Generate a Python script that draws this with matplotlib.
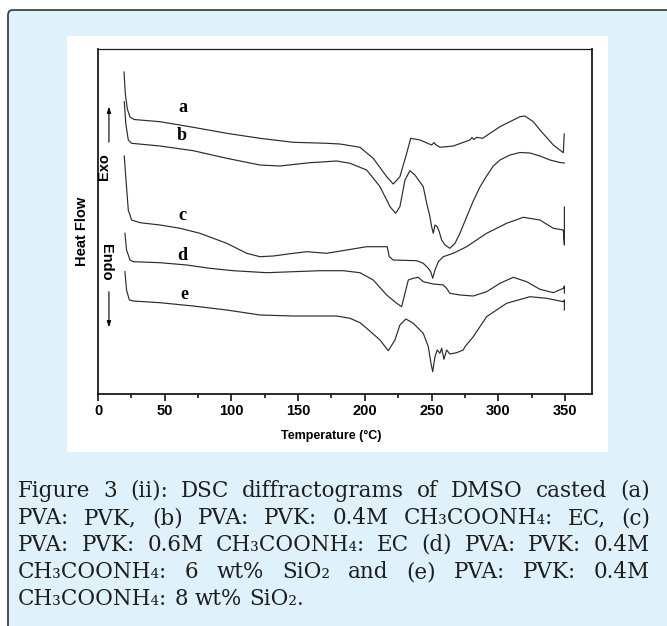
import matplotlib
matplotlib.use('Agg')
import matplotlib.pyplot as plt
import matplotlib.patches as patches
from matplotlib.transforms import IdentityTransform

W, H = 667, 626

# DSC curves: temperature (deg C) and heat flow (arbitrary units)
temp_a = [19.5, 20.5, 22.0, 24.0, 27.0, 46.5, 71.4, 96.5, 121.4, 146.4, 171.4, 181.4, 196.4,
          206.3, 216.4, 221.3, 226.3, 231.4, 234.4, 241.3, 250.1, 252.0, 253.0, 256.3, 266.3,
          278.8, 280.3, 281.8, 283.8, 288.3, 301.3, 316.3, 320.0, 326.3, 331.3, 341.3, 348.8, 349.5]
flow_a = [322.0, 300.0, 285.0, 277.0, 274.5, 272.3, 266.7, 260.7, 255.7, 251.7, 250.7, 250.0, 246.7,
          235.7, 217.3, 210.0, 217.3, 240.7, 255.7, 254.0, 249.0, 251.5, 249.5, 246.7, 248.0,
          254.0, 256.5, 254.5, 256.7, 255.7, 267.3, 277.3, 278.0, 272.3, 264.0, 249.0, 241.3, 260.0]

temp_b = [19.7, 20.8, 22.7, 25.2, 46.5, 71.4, 96.5, 121.4, 136.4, 158.9, 178.9, 188.9, 201.4,
          211.4, 218.9, 223.1, 226.3, 230.1, 233.8, 237.6, 243.8, 246.4, 248.8, 250.1, 251.3,
          252.6, 254.3, 255.8, 257.6, 260.1, 263.8, 267.6, 271.3, 276.3, 281.3, 286.3, 291.3,
          296.3, 301.3, 308.8, 316.3, 323.8, 331.3, 338.8, 346.3, 349.5]
flow_b = [292.3, 270.7, 254.0, 250.7, 248.0, 243.3, 235.7, 229.0, 228.0, 231.3, 233.0, 230.7, 224.0,
          207.3, 187.3, 180.7, 187.3, 214.0, 223.3, 219.0, 207.3, 190.7, 177.3, 167.3, 160.7,
          169.0, 167.3, 162.3, 154.0, 149.0, 145.7, 150.7, 160.7, 177.0, 193.0, 207.0, 218.0,
          228.0, 234.0, 239.0, 241.5, 241.0, 238.0, 234.0, 231.5, 231.0]

temp_c = [19.7, 20.8, 22.7, 25.2, 31.5, 46.5, 61.5, 76.4, 96.5, 111.5, 121.4, 131.4, 146.4, 156.4,
          171.4, 186.4, 201.4, 213.8, 216.8, 218.3, 221.3, 238.8, 243.8, 247.6, 249.4, 250.9,
          252.6, 255.1, 258.8, 266.3, 276.3, 291.3, 306.3, 318.8, 331.3, 341.3, 348.8, 349.6, 349.6]
flow_c = [238.0, 217.3, 184.0, 174.0, 171.3, 169.0, 165.7, 160.7, 150.7, 140.7, 137.3, 138.0, 140.7,
          142.3, 140.7, 144.0, 147.3, 147.3, 147.3, 137.3, 134.0, 133.3, 130.7, 125.7, 122.3,
          115.7, 124.0, 132.3, 137.3, 140.7, 147.3, 160.7, 170.7, 176.7, 174.0, 165.7, 164.0,
          149.0, 187.0]

temp_d = [20.2, 21.4, 24.0, 26.5, 46.5, 66.5, 83.9, 101.4, 126.4, 146.4, 166.4, 183.9, 196.4,
          206.3, 216.4, 223.9, 227.6, 230.1, 232.6, 236.3, 240.1, 243.8, 251.3, 258.8, 261.3,
          263.8, 271.3, 281.3, 291.3, 301.3, 311.3, 321.3, 331.3, 341.3, 348.8, 349.6, 349.6]
flow_d = [160.7, 144.0, 134.0, 132.3, 131.3, 129.0, 125.7, 123.3, 121.3, 122.3, 123.3, 123.3, 121.3,
          114.0, 99.0, 90.7, 87.3, 100.7, 114.0, 115.7, 116.7, 112.3, 110.0, 109.0, 105.7,
          100.7, 99.0, 98.0, 102.3, 110.7, 116.7, 112.3, 104.7, 101.3, 105.7, 108.0, 101.0]

temp_e = [20.2, 21.4, 23.5, 26.5, 46.5, 71.4, 96.5, 121.4, 146.4, 178.9, 188.9, 196.4, 201.4,
          211.4, 217.6, 222.6, 226.3, 230.8, 236.3, 243.8, 247.6, 249.6, 250.9, 252.6, 254.3,
          256.3, 257.6, 259.3, 261.3, 263.8, 268.8, 273.8, 275.1, 281.3, 291.3, 306.3, 323.8,
          336.3, 348.8, 349.6, 349.6]
flow_e = [122.3, 104.0, 94.0, 93.0, 91.3, 88.0, 84.0, 79.0, 78.0, 78.0, 75.7, 71.3, 65.7,
          54.0, 43.3, 54.0, 69.0, 75.0, 70.7, 60.7, 47.3, 30.7, 22.3, 37.3, 44.0,
          40.7, 45.7, 34.7, 44.0, 40.0, 41.3, 44.0, 47.3, 57.3, 77.3, 90.7, 97.3,
          95.7, 92.3, 94.0, 84.0]

curve_temps = [temp_a, temp_b, temp_c, temp_d, temp_e]
curve_flows = [flow_a, flow_b, flow_c, flow_d, flow_e]
curve_labels = ['a', 'b', 'c', 'd', 'e']
label_temp = [63.5, 62.7, 63.2, 63.2, 64.5]
label_flow = [286.7, 258.0, 179.0, 139.0, 99.7]

x_ticks = [0, 50, 100, 150, 200, 250, 300, 350]

caption_lines = [
    "Figure 3 (ii): DSC diffractograms of DMSO casted (a)",
    "PVA: PVK, (b) PVA: PVK: 0.4M CH\u2083COONH\u2084: EC, (c)",
    "PVA: PVK: 0.6M CH\u2083COONH\u2084: EC (d) PVA: PVK: 0.4M",
    "CH\u2083COONH\u2084: 6 wt% SiO\u2082 and (e) PVA: PVK: 0.4M",
    "CH\u2083COONH\u2084: 8 wt% SiO\u2082.",
]


def px_box(x0, y0, x1, y1):
    """image pixel box (top-left origin) -> figure fraction rect"""
    return [x0 / W, (H - y1) / H, (x1 - x0) / W, (y1 - y0) / H]


fig = plt.figure(figsize=(W / 100, H / 100), dpi=100)
fig.patch.set_facecolor('white')

# light blue panel with dark border, runs off the right and bottom edges
panel = patches.FancyBboxPatch((8, -60), 720, H - 10 + 60,
                               boxstyle='round,pad=0,rounding_size=5',
                               transform=IdentityTransform(), zorder=-2,
                               facecolor='#dff1fb', edgecolor='#333333', linewidth=1.2)
fig.patches.append(panel)

# white figure image area
white = patches.Rectangle((67, H - 452), 541, 416, transform=IdentityTransform(),
                          zorder=-1, facecolor='white', edgecolor='none')
fig.patches.append(white)

ax = fig.add_axes(px_box(98, 49, 592, 394))
ax.set_facecolor('white')
for t, f in zip(curve_temps, curve_flows):
    ax.plot(t, f, color='#2b2b2b', linewidth=0.85)

serif_bold = ['Liberation Serif', 'DejaVu Serif']
for lab, lt, lf in zip(curve_labels, label_temp, label_flow):
    ax.text(lt, lf, lab, family=serif_bold, fontweight='bold', fontsize=13,
            ha='center', va='center')

ax.set_xlim(0, 370.3)
ax.set_ylim(0, 345)
ax.set_yticks([])
ax.set_xticks(x_ticks)
ax.set_xticks([25, 75, 125, 175, 225, 275, 325], minor=True)
narrow = ['Liberation Sans Narrow', 'Liberation Sans', 'DejaVu Sans']
ax.set_xticklabels([str(v) for v in x_ticks], family=narrow, fontweight='heavy', fontsize=10.5)
ax.tick_params(axis='x', which='major', direction='out', length=5, width=1.1, pad=2)
ax.tick_params(axis='x', which='minor', direction='out', length=3, width=1.1)
for side in ['left', 'bottom', 'right']:
    ax.spines[side].set_linewidth(1.3)
ax.spines['top'].set_linewidth(0.9)
for s in ax.spines.values():
    s.set_color('#1a1a1a')

# Exo / Endo arrows and labels
sans = ['Liberation Sans', 'DejaVu Sans']
ax.annotate('', xy=(8.2, 290), xytext=(8.2, 249),
            arrowprops=dict(arrowstyle='-|>,head_length=0.35,head_width=0.12', color='black', lw=0.8))
ax.annotate('', xy=(8.2, 64), xytext=(8.2, 105),
            arrowprops=dict(arrowstyle='-|>,head_length=0.35,head_width=0.12', color='black', lw=0.8))
ax.text(4.3, 227, 'Exo', rotation=90, family=sans, fontweight='heavy', fontsize=10.5,
        ha='center', va='center')
ax.text(6.3, 132, 'Endo', rotation=-90, family=sans, fontweight='heavy', fontsize=10.5,
        ha='center', va='center')
ax.text(-12, 163, 'Heat Flow', rotation=90, family=sans, fontweight='heavy', fontsize=10.5,
        ha='center', va='center', clip_on=False)
ax.text(175, -42, 'Temperature (\u00b0C)', family=narrow, fontweight='heavy', fontsize=9,
        ha='center', va='center', clip_on=False)

# justified caption
cap_kw = dict(family=['DejaVu Serif'], fontsize=15.5, color='#1e1e1e',
              va='baseline', ha='left', transform=IdentityTransform())
renderer = fig.canvas.get_renderer()
left, right = 18, 650
baselines = [497, 524, 551, 578, 605]
probe1 = fig.text(0, 0, 'a a', **cap_kw)
probe2 = fig.text(0, 0, 'aa', **cap_kw)
space_w = probe1.get_window_extent(renderer).width - probe2.get_window_extent(renderer).width
probe1.remove()
probe2.remove()
for i, (line, yb) in enumerate(zip(caption_lines, baselines)):
    words = line.split(' ')
    texts = [fig.text(0, 0, w, **cap_kw) for w in words]
    widths = [t.get_window_extent(renderer).width for t in texts]
    if i < len(caption_lines) - 1:
        gap = (right - left - sum(widths)) / (len(words) - 1)
    else:
        gap = space_w
    x = left
    for t, w in zip(texts, widths):
        t.set_position((x, H - yb))
        x += w + gap

fig.savefig('out.png', dpi=100)
